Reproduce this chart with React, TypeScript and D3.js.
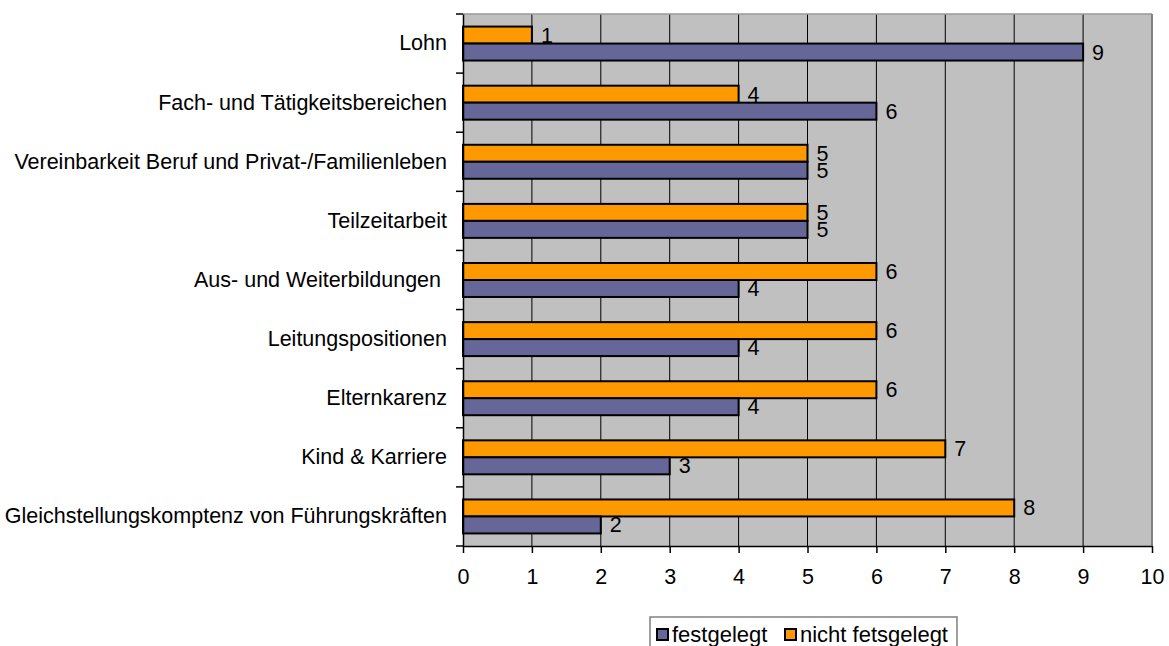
import React, { useEffect, useRef } from 'react';
import * as d3 from 'd3';

const categories = [
  'Lohn',
  'Fach- und Tätigkeitsbereichen',
  'Vereinbarkeit Beruf und Privat-/Familienleben',
  'Teilzeitarbeit',
  'Aus- und Weiterbildungen ',
  'Leitungspositionen',
  'Elternkarenz',
  'Kind & Karriere',
  'Gleichstellungskomptenz von Führungskräften',
];
const festgelegt = [9, 6, 5, 5, 4, 4, 4, 3, 2];
const nichtFestgelegt = [1, 4, 5, 5, 6, 6, 6, 7, 8];
const xTicks = [0, 1, 2, 3, 4, 5, 6, 7, 8, 9, 10];

const series = [
  { key: 'nicht fetsgelegt', values: nichtFestgelegt, color: '#FF9900' },
  { key: 'festgelegt', values: festgelegt, color: '#666699' },
];

const FONT = '"Liberation Sans", Arial, sans-serif';
const FS = 21.5;

export default function App() {
  const svgRef = useRef<SVGSVGElement>(null);

  useEffect(() => {
    if (!svgRef.current) return;
    const svg = d3.select(svgRef.current);
    svg.selectAll('*').remove();

    const left = 463;
    const right = 1152;
    const top = 14;
    const bottom = 546;

    const x = d3.scaleLinear().domain([0, 10]).range([left, right]);
    const y = d3.scaleBand().domain(categories).range([top, bottom]).padding(0);
    const y1 = d3
      .scaleBand()
      .domain(series.map((s) => s.key))
      .range([0, y.bandwidth()])
      .paddingInner(0)
      .paddingOuter(0.74);

    // plot background
    svg
      .append('rect')
      .attr('x', left)
      .attr('y', top)
      .attr('width', right - left)
      .attr('height', bottom - top)
      .attr('fill', '#C0C0C0');

    // grid lines
    svg
      .append('g')
      .selectAll('line')
      .data(xTicks.slice(1, -1))
      .enter()
      .append('line')
      .attr('x1', (d) => x(d))
      .attr('x2', (d) => x(d))
      .attr('y1', top)
      .attr('y2', bottom)
      .attr('stroke', '#000')
      .attr('stroke-width', 1);

    // top and right border
    svg
      .append('line')
      .attr('x1', left)
      .attr('x2', right)
      .attr('y1', top)
      .attr('y2', top)
      .attr('stroke', '#999999')
      .attr('stroke-width', 1.5);
    svg
      .append('line')
      .attr('x1', right)
      .attr('x2', right)
      .attr('y1', top)
      .attr('y2', bottom)
      .attr('stroke', '#808080')
      .attr('stroke-width', 2);

    // bars
    series.forEach((s) => {
      svg
        .append('g')
        .selectAll('rect')
        .data(categories)
        .enter()
        .append('rect')
        .attr('x', x(0))
        .attr('y', (c) => y(c)! + y1(s.key)!)
        .attr('width', (c, i) => x(s.values[i]) - x(0))
        .attr('height', y1.bandwidth())
        .attr('fill', s.color)
        .attr('stroke', '#000')
        .attr('stroke-width', 2);

      svg
        .append('g')
        .selectAll('text')
        .data(categories)
        .enter()
        .append('text')
        .attr('x', (c, i) => x(s.values[i]) + 9)
        .attr('y', (c) => y(c)! + y1(s.key)! + y1.bandwidth() / 2)
        .attr('dy', '0.35em')
        .attr('font-family', FONT)
        .attr('font-size', FS)
        .attr('fill', '#000')
        .text((c, i) => s.values[i]);
    });

    // left axis
    const yAxis = svg
      .append('g')
      .attr('transform', `translate(${left},0)`)
      .call(d3.axisLeft(y).tickSize(0).tickPadding(16));
    yAxis.select('.domain').attr('stroke', '#000').attr('stroke-width', 1.5);
    yAxis
      .selectAll('text')
      .attr('font-family', FONT)
      .attr('font-size', FS)
      .attr('fill', '#000')
      .style('white-space', 'pre');
    svg
      .append('g')
      .selectAll('line')
      .data(d3.range(categories.length + 1))
      .enter()
      .append('line')
      .attr('x1', left - 7)
      .attr('x2', left)
      .attr('y1', (i) => top + i * y.step())
      .attr('y2', (i) => top + i * y.step())
      .attr('stroke', '#000')
      .attr('stroke-width', 1.5);

    // bottom axis
    const xAxis = svg
      .append('g')
      .attr('transform', `translate(0,${bottom})`)
      .call(d3.axisBottom(x).tickValues(xTicks).tickSize(7).tickSizeOuter(0).tickPadding(16));
    xAxis.select('.domain').attr('stroke', '#000').attr('stroke-width', 1.5);
    xAxis.selectAll('line').attr('stroke', '#000').attr('stroke-width', 1.5);
    xAxis
      .selectAll('text')
      .attr('font-family', FONT)
      .attr('font-size', FS)
      .attr('fill', '#000');

    // legend
    const legend = svg.append('g');
    legend
      .append('rect')
      .attr('x', 650)
      .attr('y', 617)
      .attr('width', 307)
      .attr('height', 50)
      .attr('fill', '#fff')
      .attr('stroke', '#808080')
      .attr('stroke-width', 1.5);
    const legendItems = [
      { label: 'festgelegt', color: '#666699', x: 657 },
      { label: 'nicht fetsgelegt', color: '#FF9900', x: 785 },
    ];
    legendItems.forEach((item) => {
      legend
        .append('rect')
        .attr('x', item.x)
        .attr('y', 629)
        .attr('width', 11)
        .attr('height', 11)
        .attr('fill', item.color)
        .attr('stroke', '#000')
        .attr('stroke-width', 2);
      legend
        .append('text')
        .attr('x', item.x + 15)
        .attr('y', 642)
        .attr('font-family', FONT)
        .attr('font-size', 22)
        .attr('fill', '#000')
        .text(item.label);
    });
  }, []);

  return (
    <svg
      ref={svgRef}
      width={1169}
      height={646}
      style={{ position: 'absolute', left: 0, top: 0, background: '#fff' }}
    />
  );
}
